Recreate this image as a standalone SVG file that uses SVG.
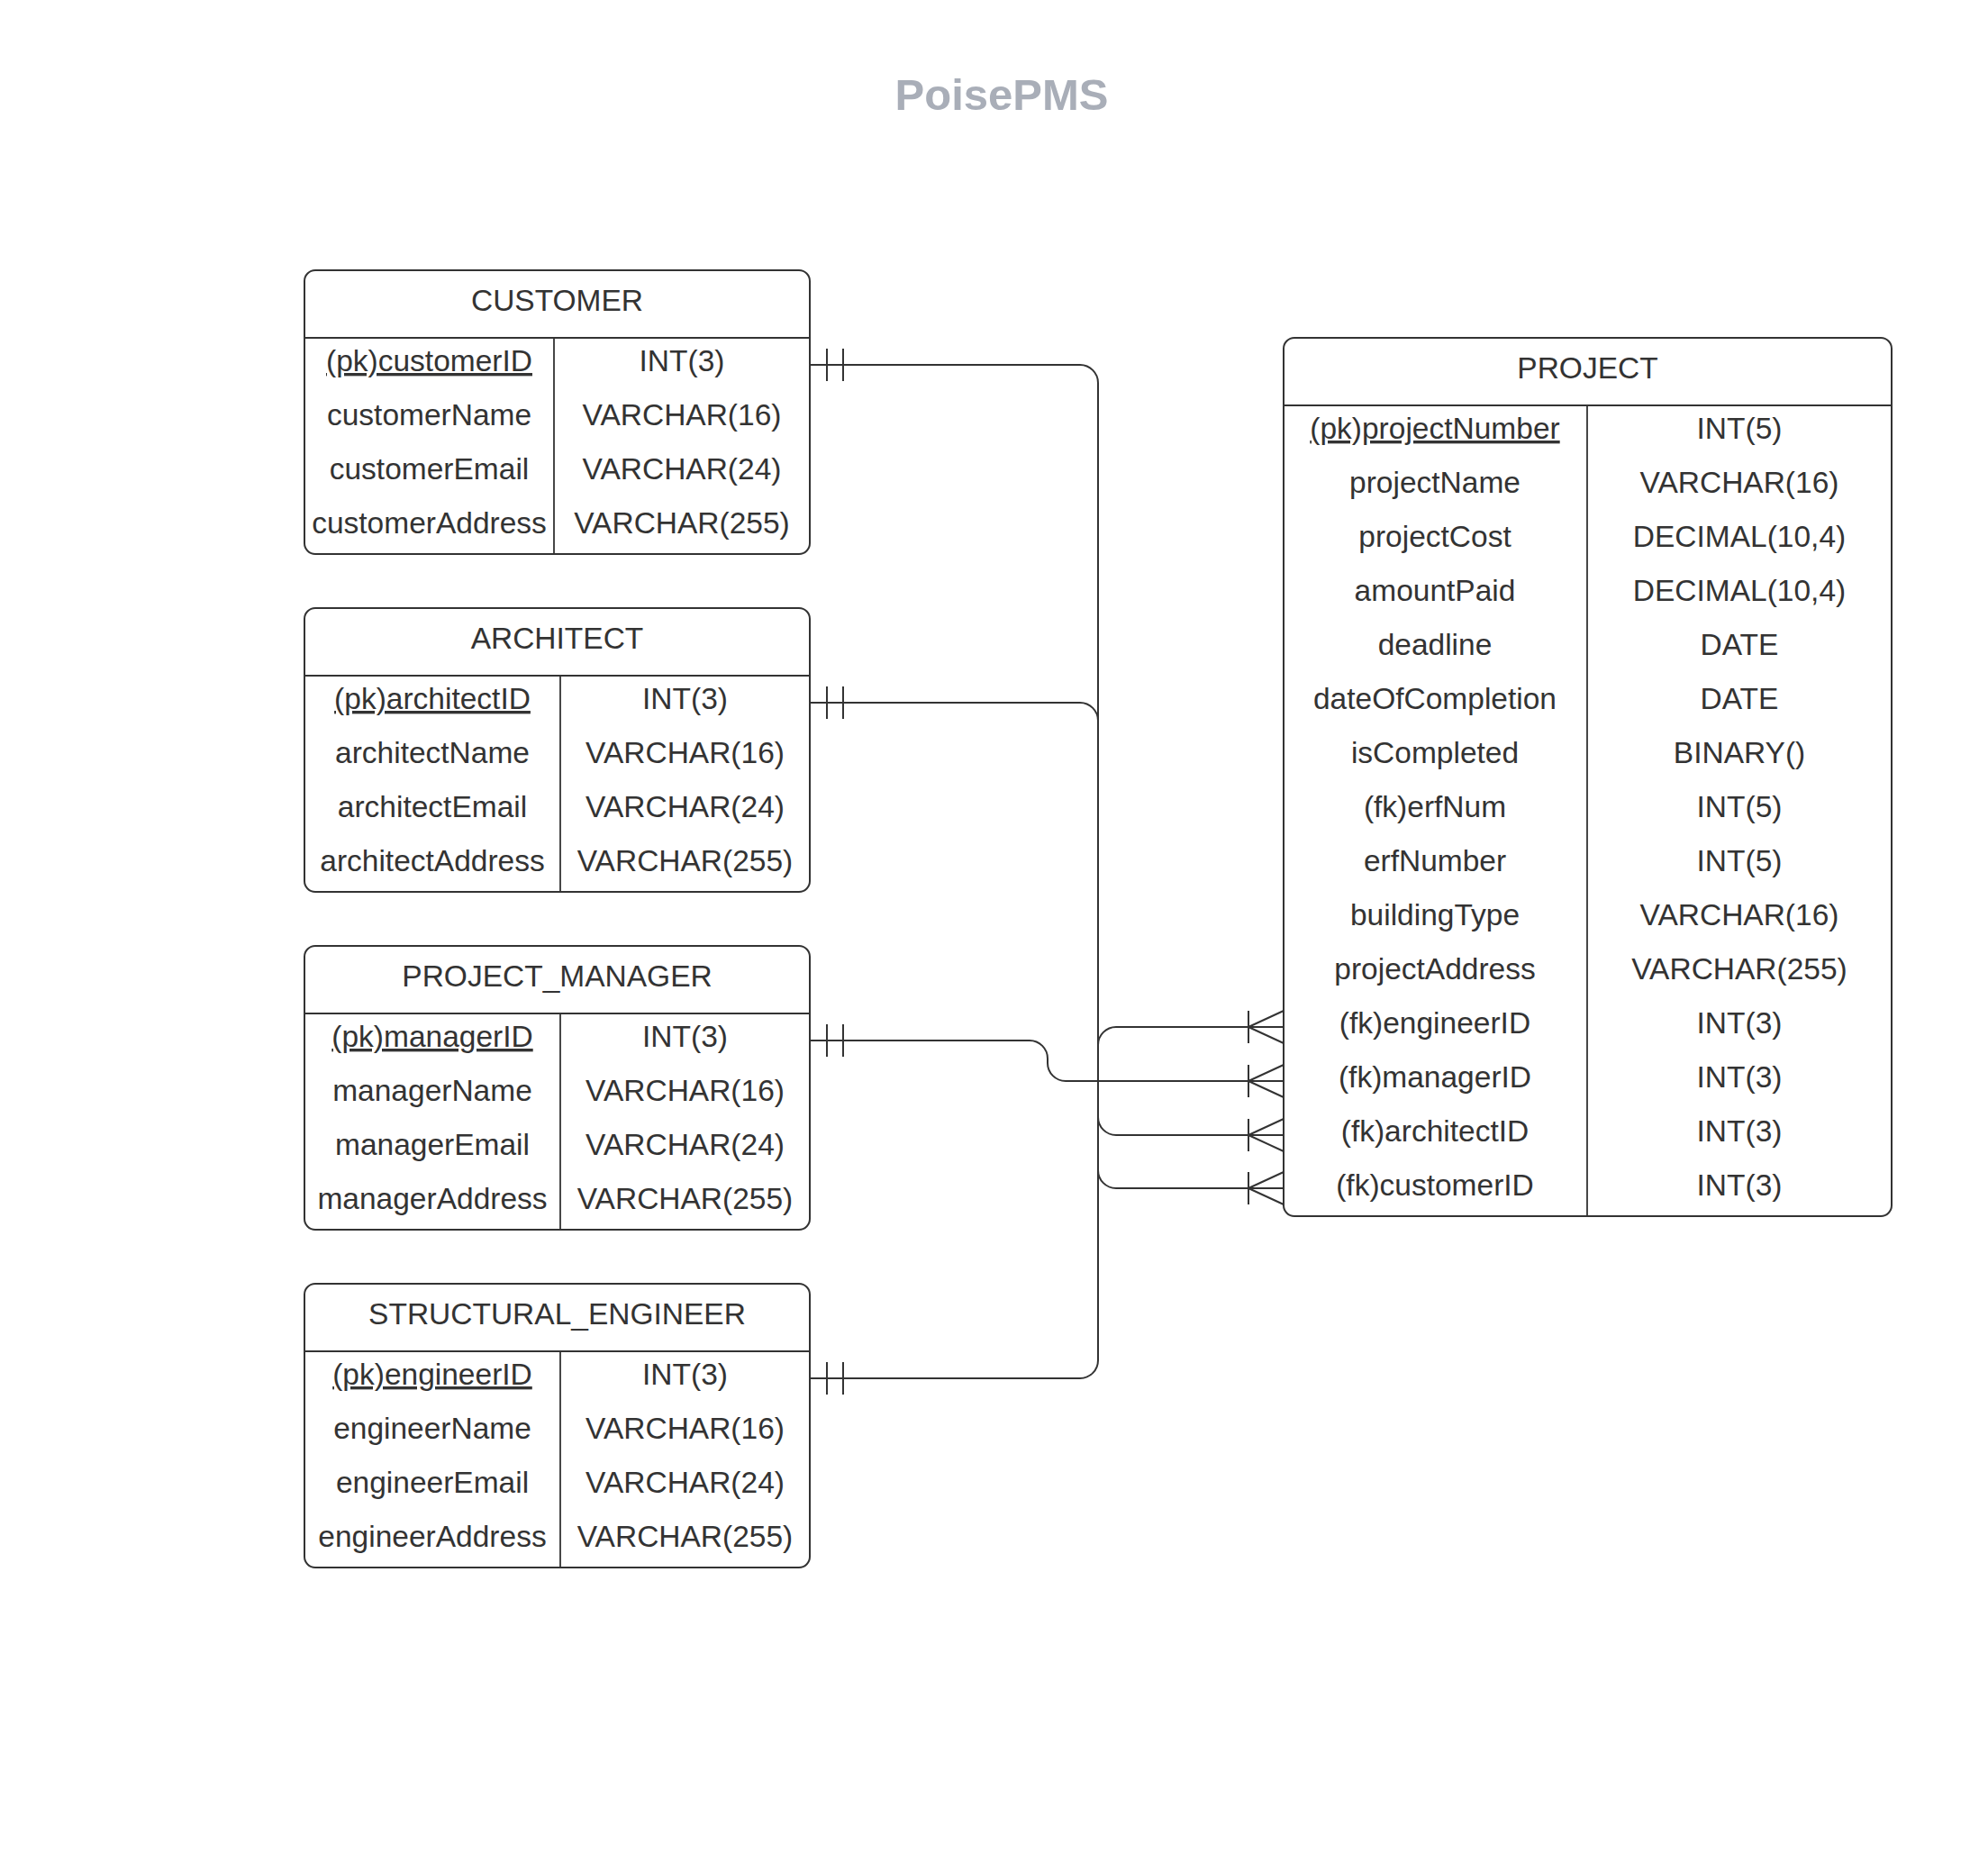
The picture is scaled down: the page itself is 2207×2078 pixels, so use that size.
<svg xmlns="http://www.w3.org/2000/svg" width="2207" height="2078" viewBox="0 0 2207 2078">
<style>
.bx{fill:#fff;stroke:#333;stroke-width:2}
.ln{fill:none;stroke:#333;stroke-width:1.8}
.cn{fill:none;stroke:#333;stroke-width:2}
text{font-family:"Liberation Sans",Arial,sans-serif;font-size:33.5px;fill:#333;text-anchor:middle}
.pk{text-decoration:underline}
.title{font-size:49px;font-weight:bold;fill:#a9aeb8}
</style>
<defs>
<marker id="one" markerUnits="userSpaceOnUse" markerWidth="40" markerHeight="40" viewBox="0 -20 40 40" refX="0" refY="0" orient="auto" overflow="visible">
<path d="M19 -18 V18 M37 -18 V18" fill="none" stroke="#333" stroke-width="2"/>
</marker>
<marker id="many" markerUnits="userSpaceOnUse" markerWidth="40" markerHeight="40" viewBox="-40 -20 40 40" refX="0" refY="0" orient="auto" overflow="visible">
<path d="M-39 -18 V18 M-39 0 L0 -18 M-39 0 L0 18" fill="none" stroke="#333" stroke-width="2"/>
</marker>
</defs>
<rect width="2207" height="2078" fill="#fff"/>
<text class="title" x="1112" y="122">PoisePMS</text>

<g id="connectors">
<path class="cn" marker-start="url(#one)" marker-end="url(#many)" d="M899 405 H1199 A20 20 0 0 1 1219 425 V1299 A20 20 0 0 0 1239 1319 H1425"/>
<path class="cn" marker-start="url(#one)" marker-end="url(#many)" d="M899 780 H1199 A20 20 0 0 1 1219 800 V1240 A20 20 0 0 0 1239 1260 H1425"/>
<path class="cn" marker-start="url(#one)" marker-end="url(#many)" d="M899 1155 H1143 A20 20 0 0 1 1163 1175 V1180 A20 20 0 0 0 1183 1200 H1425"/>
<path class="cn" marker-start="url(#one)" marker-end="url(#many)" d="M899 1530 H1199 A20 20 0 0 0 1219 1510 V1160 A20 20 0 0 1 1239 1140 H1425"/>
</g>

<g id="customer">
<rect class="bx" x="338" y="300" width="561" height="315" rx="12"/>
<path class="ln" d="M338 375 H899 M615 375 V615"/>
<text x="618.5" y="345">CUSTOMER</text>
<text class="pk" x="476.5" y="412">(pk)customerID</text>
<text x="476.5" y="472">customerName</text>
<text x="476.5" y="532">customerEmail</text>
<text x="476.5" y="592">customerAddress</text>
<text x="757" y="412">INT(3)</text>
<text x="757" y="472">VARCHAR(16)</text>
<text x="757" y="532">VARCHAR(24)</text>
<text x="757" y="592">VARCHAR(255)</text>
</g>

<g id="architect">
<rect class="bx" x="338" y="675" width="561" height="315" rx="12"/>
<path class="ln" d="M338 750 H899 M622 750 V990"/>
<text x="618.5" y="720">ARCHITECT</text>
<text class="pk" x="480" y="787">(pk)architectID</text>
<text x="480" y="847">architectName</text>
<text x="480" y="907">architectEmail</text>
<text x="480" y="967">architectAddress</text>
<text x="760.5" y="787">INT(3)</text>
<text x="760.5" y="847">VARCHAR(16)</text>
<text x="760.5" y="907">VARCHAR(24)</text>
<text x="760.5" y="967">VARCHAR(255)</text>
</g>

<g id="project_manager">
<rect class="bx" x="338" y="1050" width="561" height="315" rx="12"/>
<path class="ln" d="M338 1125 H899 M622 1125 V1365"/>
<text x="618.5" y="1095">PROJECT_MANAGER</text>
<text class="pk" x="480" y="1162">(pk)managerID</text>
<text x="480" y="1222">managerName</text>
<text x="480" y="1282">managerEmail</text>
<text x="480" y="1342">managerAddress</text>
<text x="760.5" y="1162">INT(3)</text>
<text x="760.5" y="1222">VARCHAR(16)</text>
<text x="760.5" y="1282">VARCHAR(24)</text>
<text x="760.5" y="1342">VARCHAR(255)</text>
</g>

<g id="structural_engineer">
<rect class="bx" x="338" y="1425" width="561" height="315" rx="12"/>
<path class="ln" d="M338 1500 H899 M622 1500 V1740"/>
<text x="618.5" y="1470">STRUCTURAL_ENGINEER</text>
<text class="pk" x="480" y="1537">(pk)engineerID</text>
<text x="480" y="1597">engineerName</text>
<text x="480" y="1657">engineerEmail</text>
<text x="480" y="1717">engineerAddress</text>
<text x="760.5" y="1537">INT(3)</text>
<text x="760.5" y="1597">VARCHAR(16)</text>
<text x="760.5" y="1657">VARCHAR(24)</text>
<text x="760.5" y="1717">VARCHAR(255)</text>
</g>

<g id="project">
<rect class="bx" x="1425" y="375" width="675" height="975" rx="12"/>
<path class="ln" d="M1425 450 H2100 M1762 450 V1350"/>
<text x="1762.5" y="420">PROJECT</text>
<text class="pk" x="1593" y="487">(pk)projectNumber</text>
<text x="1593" y="547">projectName</text>
<text x="1593" y="607">projectCost</text>
<text x="1593" y="667">amountPaid</text>
<text x="1593" y="727">deadline</text>
<text x="1593" y="787">dateOfCompletion</text>
<text x="1593" y="847">isCompleted</text>
<text x="1593" y="907">(fk)erfNum</text>
<text x="1593" y="967">erfNumber</text>
<text x="1593" y="1027">buildingType</text>
<text x="1593" y="1087">projectAddress</text>
<text x="1593" y="1147">(fk)engineerID</text>
<text x="1593" y="1207">(fk)managerID</text>
<text x="1593" y="1267">(fk)architectID</text>
<text x="1593" y="1327">(fk)customerID</text>
<text x="1931" y="487">INT(5)</text>
<text x="1931" y="547">VARCHAR(16)</text>
<text x="1931" y="607">DECIMAL(10,4)</text>
<text x="1931" y="667">DECIMAL(10,4)</text>
<text x="1931" y="727">DATE</text>
<text x="1931" y="787">DATE</text>
<text x="1931" y="847">BINARY()</text>
<text x="1931" y="907">INT(5)</text>
<text x="1931" y="967">INT(5)</text>
<text x="1931" y="1027">VARCHAR(16)</text>
<text x="1931" y="1087">VARCHAR(255)</text>
<text x="1931" y="1147">INT(3)</text>
<text x="1931" y="1207">INT(3)</text>
<text x="1931" y="1267">INT(3)</text>
<text x="1931" y="1327">INT(3)</text>
</g>
</svg>
